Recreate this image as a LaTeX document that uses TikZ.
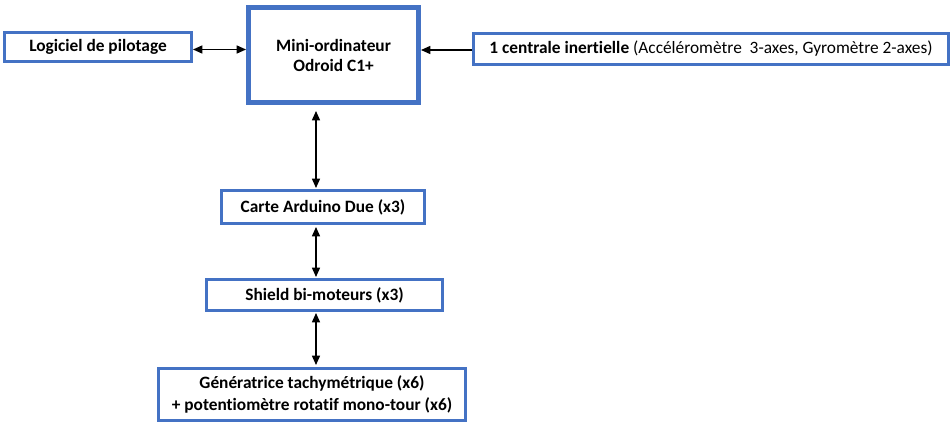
\documentclass[tikz,border=0pt]{standalone}
\usepackage{fontspec}
\setmainfont{Carlito}[Ligatures={NoCommon}]
\usetikzlibrary{arrows.meta,calc}
\definecolor{boxblue}{HTML}{4472C4}
\begin{document}
\begin{tikzpicture}[x=0.75pt,y=-0.75pt,
  box/.style={draw=boxblue, line width=2.25pt, fill=white, inner sep=0pt, align=center,
    font=\bfseries\fontsize{13}{15}\selectfont},
  link/.style={line width=1.1pt, {Triangle[length=7pt,width=6pt]}-{Triangle[length=7pt,width=6pt]}},
  onelink/.style={line width=1.1pt, -{Triangle[length=7pt,width=6pt]}}]
\useasboundingbox (0,0) rectangle (951,429);
\node[box, minimum width=140.25pt, minimum height=21.75pt] (logi) at (98,47) {Logiciel de pilotage};
\node[box, line width=3.75pt, minimum width=127.5pt, minimum height=71.25pt] (mini) at (333.5,55) {Mini-ordinateur\\Odroid C1+};
\node[box, minimum width=356.25pt, minimum height=23.25pt] (cent) at (711,49) {1 centrale inertielle {\mdseries (Accéléromètre~ 3-axes, Gyromètre 2-axes)}};
\node[box, minimum width=152.25pt, minimum height=24.75pt] (carte) at (323,207) {Carte Arduino Due (x3)};
\node[box, minimum width=177pt, minimum height=23.25pt] (shield) at (324.5,295) {Shield bi-moteurs (x3)};
\node[box, minimum width=230.25pt, minimum height=39pt, font=\bfseries\fontsize{13}{16.5}\selectfont] (gen) at (312,394.5) {Génératrice tachymétrique (x6)\\+ potentiomètre rotatif mono-tour (x6)};
\coordinate (h1) at (0,49.5);
\coordinate (h2) at (0,50);
\coordinate (v) at (316,0);
\draw[link] (logi.east |- h1) -- (mini.west |- h1);
\draw[onelink] (cent.west |- h2) -- (mini.east |- h2);
\draw[link, shorten <=4.5pt, shorten >=0.75pt] (mini.south -| v) -- (carte.north -| v);
\draw[link, shorten <=1.5pt, shorten >=0.75pt] (carte.south -| v) -- (shield.north -| v);
\draw[link, shorten <=0.75pt, shorten >=1.5pt] (shield.south -| v) -- (gen.north -| v);
\end{tikzpicture}
\end{document}
